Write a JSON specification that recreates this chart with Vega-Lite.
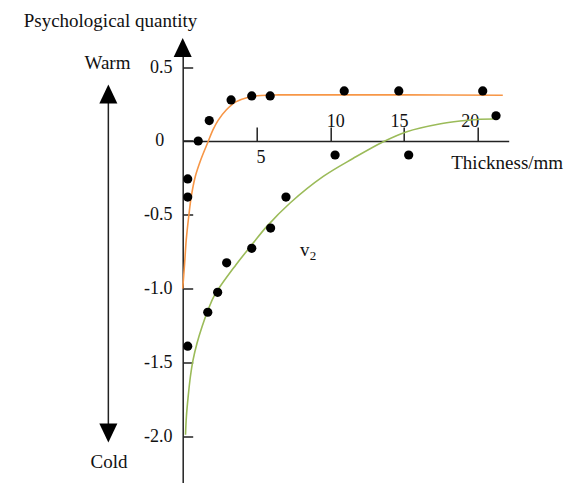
{
  "$schema": "https://vega.github.io/schema/vega-lite/v6.json",
  "width": 326,
  "height": 437,
  "autosize": {"type": "none"},
  "padding": {"left": 182.7, "top": 46.5, "right": 70.3, "bottom": 0},
  "background": "white",
  "config": {"view": {"stroke": null}, "font": "Liberation Serif"},
  "datasets": {
    "curves": [
      {"s": "fast", "x": 0, "y": -1.0},
      {"s": "fast", "x": 0.13, "y": -0.83},
      {"s": "fast", "x": 0.24, "y": -0.67},
      {"s": "fast", "x": 0.41, "y": -0.51},
      {"s": "fast", "x": 0.58, "y": -0.377},
      {"s": "fast", "x": 0.85, "y": -0.242},
      {"s": "fast", "x": 1.22, "y": -0.129},
      {"s": "fast", "x": 1.72, "y": -0.005},
      {"s": "fast", "x": 2.05, "y": 0.075},
      {"s": "fast", "x": 2.4, "y": 0.14},
      {"s": "fast", "x": 2.95, "y": 0.21},
      {"s": "fast", "x": 3.6, "y": 0.265},
      {"s": "fast", "x": 4.4, "y": 0.295},
      {"s": "fast", "x": 5.3, "y": 0.308},
      {"s": "fast", "x": 6.5, "y": 0.312},
      {"s": "fast", "x": 10, "y": 0.312},
      {"s": "fast", "x": 15, "y": 0.312},
      {"s": "fast", "x": 21.7, "y": 0.31},
      {"s": "slow", "x": 0.19, "y": -1.99},
      {"s": "slow", "x": 0.25, "y": -1.868},
      {"s": "slow", "x": 0.37, "y": -1.732},
      {"s": "slow", "x": 0.52, "y": -1.597},
      {"s": "slow", "x": 0.7, "y": -1.484},
      {"s": "slow", "x": 0.97, "y": -1.37},
      {"s": "slow", "x": 1.31, "y": -1.258},
      {"s": "slow", "x": 1.72, "y": -1.145},
      {"s": "slow", "x": 2.17, "y": -1.043},
      {"s": "slow", "x": 3.6, "y": -0.84},
      {"s": "slow", "x": 4.79, "y": -0.69},
      {"s": "slow", "x": 5.69, "y": -0.58},
      {"s": "slow", "x": 7.28, "y": -0.42},
      {"s": "slow", "x": 9.53, "y": -0.24},
      {"s": "slow", "x": 11.57, "y": -0.117},
      {"s": "slow", "x": 13.6, "y": -0.005},
      {"s": "slow", "x": 15.19, "y": 0.063},
      {"s": "slow", "x": 17.4, "y": 0.115},
      {"s": "slow", "x": 18.8, "y": 0.135},
      {"s": "slow", "x": 20.16, "y": 0.147},
      {"s": "slow", "x": 21.07, "y": 0.149}
    ],
    "dots": [
      {"x": 1.05, "y": 0},
      {"x": 1.8, "y": 0.138},
      {"x": 3.28, "y": 0.278},
      {"x": 4.68, "y": 0.305},
      {"x": 5.93, "y": 0.305},
      {"x": 10.95, "y": 0.339},
      {"x": 14.65, "y": 0.339},
      {"x": 20.34, "y": 0.339},
      {"x": 21.24, "y": 0.171},
      {"x": 10.33, "y": -0.095},
      {"x": 15.32, "y": -0.095},
      {"x": 0.34, "y": -0.257},
      {"x": 0.34, "y": -0.38},
      {"x": 7.0, "y": -0.38},
      {"x": 5.96, "y": -0.59},
      {"x": 4.68, "y": -0.727},
      {"x": 2.98, "y": -0.825},
      {"x": 2.37, "y": -1.025},
      {"x": 1.7, "y": -1.16},
      {"x": 0.34, "y": -1.39}
    ],
    "scaleArrow": [{"x": -5.04, "y": 0.318, "y2": -1.978}],
    "headsUp": [{"x": 0, "y": 0.633}, {"x": -5.04, "y": 0.318}],
    "headsDown": [{"x": -5.04, "y": -1.978}],
    "ends": [
      {"x": -5.1, "y": 0.49, "label": "Warm"},
      {"x": -5.0, "y": -2.213, "label": "Cold"}
    ],
    "curveName": [{"x": 8.27, "y": -0.782, "label": "v"}],
    "curveIndex": [{"x": 8.83, "y": -0.806, "label": "2"}]
  },
  "encoding": {
    "x": {
      "field": "x",
      "type": "quantitative",
      "scale": {"domain": [0, 22.1], "nice": false, "zero": false},
      "axis": {
        "orient": "bottom",
        "offset": -342.5,
        "values": [5, 10, 15, 20],
        "grid": false,
        "domainColor": "#222",
        "domainWidth": 1.5,
        "tickColor": "#222",
        "tickWidth": 1.5,
        "tickSize": -14,
        "labelFont": "Liberation Serif",
        "labelFontSize": 18,
        "labelColor": "#111",
        "labelBaseline": "alphabetic",
        "labelPadding": {"condition": {"test": "datum.value === 5", "value": 35.3}, "value": -0.3},
        "labelOffset": {"condition": [
          {"test": "datum.value === 5", "value": 4},
          {"test": "datum.value === 10", "value": 5},
          {"test": "datum.value === 15", "value": -5}
        ], "value": -8},
        "title": "Thickness/mm",
        "titleFont": "Liberation Serif",
        "titleFontSize": 19,
        "titleFontWeight": "normal",
        "titleColor": "#111",
        "titleAlign": "center",
        "titleBaseline": "alphabetic",
        "titleX": 324,
        "titleY": 27
      }
    },
    "y": {
      "field": "y",
      "type": "quantitative",
      "scale": {"domain": [-2.32, 0.64], "nice": false, "zero": false},
      "axis": {
        "orient": "left",
        "values": [0.5, 0, -0.5, -1, -1.5, -2],
        "labelExpr": "datum.value === 0 ? '0' : replace(format(datum.value, '.1f'), '\u2212', '-')",
        "grid": false,
        "domainColor": "#222",
        "domainWidth": 1.5,
        "tickColor": "#222",
        "tickWidth": 1.5,
        "tickSize": -10,
        "labelFont": "Liberation Serif",
        "labelFontSize": 18,
        "labelColor": "#111",
        "labelPadding": {"condition": {"test": "datum.value === 0", "value": 29}, "value": 20.7},
        "title": "Psychological quantity",
        "titleFont": "Liberation Serif",
        "titleFontSize": 19,
        "titleFontWeight": "normal",
        "titleColor": "#111",
        "titleAngle": 0,
        "titleAlign": "center",
        "titleBaseline": "alphabetic",
        "titleX": -72.7,
        "titleY": -19.8
      }
    }
  },
  "layer": [
    {
      "data": {"name": "curves"},
      "mark": {"type": "line", "strokeWidth": 1.6, "interpolate": "catmull-rom"},
      "encoding": {
        "color": {
          "field": "s",
          "type": "nominal",
          "scale": {"domain": ["fast", "slow"], "range": ["#F79646", "#9BBB59"]},
          "legend": null
        }
      }
    },
    {
      "data": {"name": "dots"},
      "mark": {"type": "point", "filled": true, "shape": "circle", "size": 85, "color": "#000", "opacity": 1}
    },
    {
      "data": {"name": "scaleArrow"},
      "mark": {"type": "rule", "color": "#222", "strokeWidth": 1.5},
      "encoding": {"y2": {"field": "y2"}}
    },
    {
      "data": {"name": "headsUp"},
      "mark": {"type": "point", "filled": true, "shape": "M0,-1L-0.95,1L0.95,1Z", "size": 361, "color": "#000", "opacity": 1}
    },
    {
      "data": {"name": "headsDown"},
      "mark": {"type": "point", "filled": true, "shape": "M0,1L-0.95,-1L0.95,-1Z", "size": 361, "color": "#000", "opacity": 1}
    },
    {
      "data": {"name": "ends"},
      "mark": {"type": "text", "font": "Liberation Serif", "fontSize": 19, "align": "center", "baseline": "alphabetic", "color": "#111"},
      "encoding": {"text": {"field": "label"}}
    },
    {
      "data": {"name": "curveName"},
      "mark": {"type": "text", "font": "Liberation Serif", "fontSize": 19, "align": "center", "baseline": "alphabetic", "color": "#111"},
      "encoding": {"text": {"field": "label"}}
    },
    {
      "data": {"name": "curveIndex"},
      "mark": {"type": "text", "font": "Liberation Serif", "fontSize": 13, "align": "center", "baseline": "alphabetic", "color": "#111"},
      "encoding": {"text": {"field": "label"}}
    }
  ]
}
